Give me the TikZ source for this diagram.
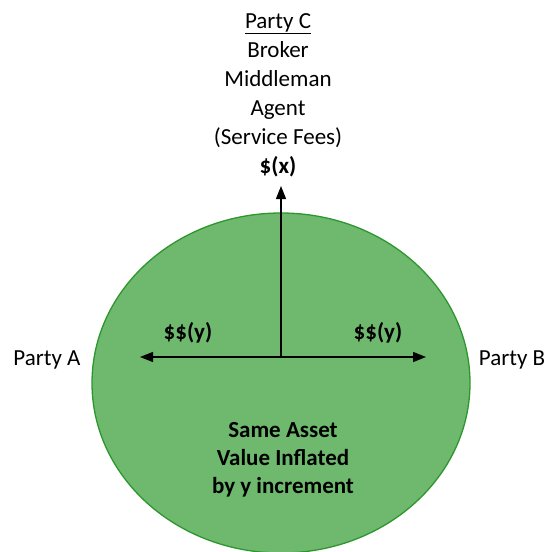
\documentclass[tikz,border=0pt]{standalone}
\usepackage{fontspec}
\setmainfont{Carlito}
\usetikzlibrary{arrows.meta}
\definecolor{fillgreen}{RGB}{110,185,110}
\definecolor{edgegreen}{RGB}{45,150,45}
\tikzset{
  lbl/.style={anchor=base, inner sep=0pt, font=\fontsize{23}{28}\selectfont},
  blbl/.style={lbl, font=\fontsize{23}{28}\selectfont\bfseries},
  arr/.style={-{Triangle[length=13pt,width=10pt]}, line width=1.4pt, black}
}
\begin{document}
\begin{tikzpicture}[x=1pt,y=-1pt]
\useasboundingbox (0,0) rectangle (547,552);
\fill[fillgreen, draw=edgegreen, line width=1.3pt] (281,383) ellipse [x radius=189, y radius=170];
\coordinate (o) at (281,357);
\coordinate (tl) at (140,357);
\coordinate (tr) at (426,357);
\coordinate (tu) at (281,186);
\draw[arr] (o) -- (tl);
\draw[arr] (o) -- (tr);
\draw[arr] (o) -- (tu);
\node[lbl] (c1) at (278,28) {\underline{Party C}};
\node[lbl] (c2) at (278,57) {Broker};
\node[lbl] (c3) at (278,86) {Middleman};
\node[lbl] (c4) at (278,115) {Agent};
\node[lbl] (c5) at (278,144) {(Service Fees)};
\node[blbl] (c6) at (278,173) {\$(x)};
\node[lbl] (pa) at (47,365) {Party A};
\node[lbl] (pb) at (512,365) {Party B};
\node[blbl] (yl) at (188,339) {\$\$(y)};
\node[blbl] (yr) at (378,339) {\$\$(y)};
\node[blbl] (s1) at (283,437) {Same Asset};
\node[blbl] (s2) at (283,465) {Value Inflated};
\node[blbl] (s3) at (283,493) {by y increment};
\end{tikzpicture}
\end{document}
